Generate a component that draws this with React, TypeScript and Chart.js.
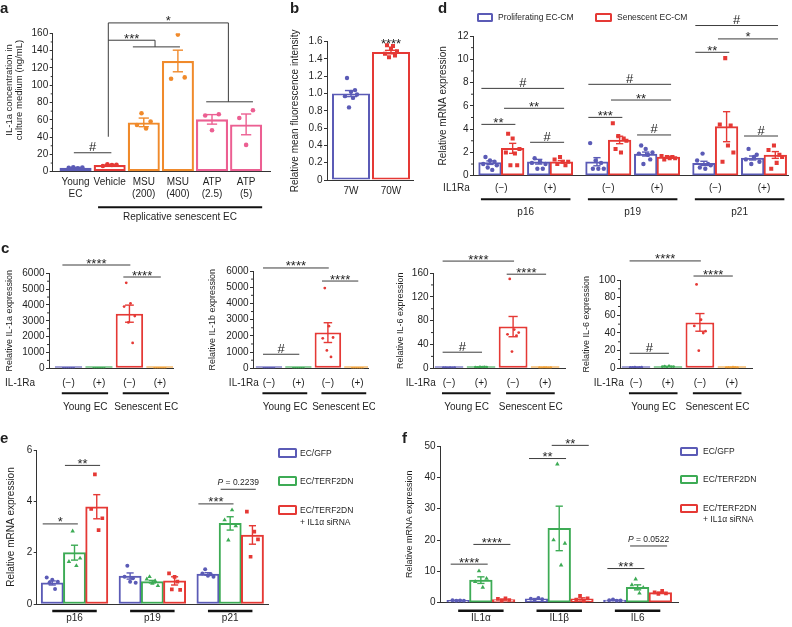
import React, { useEffect, useRef } from 'react';
import { Chart, registerables } from 'chart.js';

Chart.register(...registerables);

const FONT = '"Liberation Sans", Arial, Helvetica, sans-serif';
const INK = '#1f1f1f';
const AXIS = '#333333';
const SIG = '#3c3c3c';
const BLUE = '#5b5bb6';
const RED = '#e53935';
const ORANGE = '#f08a2b';
const PINK = '#ec5f92';
const GREEN = '#3dab55';
const AMBER = '#f3a43c';
const MINUS = '(\u2212)';
const PLUS = '(+)';

// ---------------- panel a ----------------
const aLabels = [['Young', 'EC'], 'Vehicle', ['MSU', '(200)'], ['MSU', '(400)'], ['ATP', '(2.5)'], ['ATP', '(5)']];
const aMeans = [4.5, 7.7, 57, 128, 60.5, 54.7];
const aSem = [0.4, 0.6, 5, 12.5, 5.5, 12];
const aPoints = [[4.4, 5.2, 3.9, 4.8], [6.6, 8.5, 7.8, 8.0], [54, 67.5, 50, 58], [107.5, 158.5, 109], [65, 48, 66.5], [62, 31, 71]];
const aColors = [BLUE, RED, ORANGE, ORANGE, PINK, PINK];
const aGroupLabel = 'Replicative senescent EC';

// ---------------- panel b ----------------
const bLabels = ['7W', '70W'];
const bMeans = [1.0, 1.48];
const bSem = [0.035, 0.02];
const bPoints = [[0.97, 1.18, 0.84, 1.02, 0.95, 1.04, 0.99], [1.46, 1.56, 1.42, 1.52, 1.55, 1.44, 1.49]];

// ---------------- panel c ----------------
const cTicks = [MINUS, PLUS, MINUS, PLUS];
const cGroups = ['Young EC', 'Senescent EC'];
const cColors = [BLUE, GREEN, RED, AMBER];
const c1Means = [1, 1, 3450, 1];
const c1Sem = [0, 0, 540, 0];
const c1Points = [[1.1, 0.9, 1.0, 1.2, 0.8, 1.0], [0.9, 1.1, 1.0, 0.8, 1.2, 1.0], [3900, 5400, 2900, 4100, 1600, 3300], [1.0, 0.8, 1.2, 0.9, 1.1, 1.0]];
const c2Means = [1, 1, 2200, 1];
const c2Sem = [0, 0, 610, 0];
const c2Points = [[1.0, 1.2, 0.8, 1.1, 0.9, 1.0], [1.1, 0.9, 1.0, 1.2, 0.8, 1.0], [1850, 4950, 1100, 2600, 700, 1900], [0.9, 1.0, 1.1, 0.8, 1.2, 1.0]];
const c3Means = [1, 2, 70, 1];
const c3Sem = [0, 0, 17, 0];
const c3Points = [[1.0, 1.3, 0.8, 1.1, 0.7, 1.1], [2.0, 1.6, 2.5, 1.8, 2.3, 2.0], [57, 150, 28, 65, 55, 60], [0.9, 0.6, 1.2, 1.0, 0.8, 1.1]];
const c4Means = [1, 2, 52, 1];
const c4Sem = [0, 0, 10, 0];
const c4Points = [[1.1, 0.9, 1.4, 0.8, 1.0, 1.2], [1.8, 2.3, 1.5, 2.6, 2.0, 1.9], [48, 95, 20, 55, 40, 42], [0.8, 1.0, 0.6, 1.2, 0.9, 0.7]];

// ---------------- panel d ----------------
const dGenes = ['p16', 'p19', 'p21'];
const dTreat = [MINUS, PLUS];
const dLegend = ['Proliferating EC-CM', 'Senescent EC-CM'];
// order: p16(-), p16(+), p19(-), p19(+), p21(-), p21(+)
const dProlifMeans = [1.12, 1.2, 1.2, 1.86, 1.06, 1.52];
const dProlifSem = [0.15, 0.2, 0.35, 0.17, 0.18, 0.17];
const dSenMeans = [2.35, 1.2, 3.07, 1.6, 4.21, 1.78];
const dSenSem = [0.43, 0.1, 0.32, 0.07, 1.29, 0.29];
const dProlifPoints = [[1.0, 1.6, 0.7, 1.3, 0.5, 1.2, 0.9], [1.1, 1.5, 0.6, 1.2, 0.6, 1.0], [2.8, 0.6, 1.3, 0.6, 1.1, 0.6], [1.9, 2.6, 1.0, 2.3, 1.8, 1.4, 2.0], [1.3, 0.7, 1.9, 0.6, 1.0, 0.9], [1.4, 2.3, 1.0, 1.6, 1.8, 1.2]];
const dSenPoints = [[2.0, 3.6, 0.9, 3.2, 1.9, 0.9, 2.3], [1.4, 1.0, 1.6, 1.2, 0.9, 1.2], [4.5, 2.3, 3.4, 2.0, 3.2, 3.0], [1.7, 1.4, 1.6, 1.5, 1.6, 1.5], [4.4, 1.2, 10.1, 2.6, 4.3, 2.0], [2.2, 0.6, 2.6, 1.1, 1.8, 1.6]];
// [barA, barB, y, label]
const dSig = [
  [0, 1, 4.41, '**'], [2, 3, 2.87, '#'], [1, 3, 5.79, '**'], [0, 3, 7.5, '#'],
  [4, 5, 5.01, '***'], [6, 7, 3.5, '#'], [5, 7, 6.5, '**'], [4, 7, 7.85, '#'],
  [8, 9, 10.6, '**'], [10, 11, 3.41, '#'], [9, 11, 11.75, '*'], [8, 11, 12.9, '#'],
];

// ---------------- panel e ----------------
const eGenes = ['p16', 'p19', 'p21'];
const efLegend = [['EC/GFP'], ['EC/TERF2DN'], ['EC/TERF2DN', '+ IL1\u03b1 siRNA']];
const eGfpMeans = [0.82, 1.09, 1.17];
const eGfpSem = [0.08, 0.12, 0.05];
const eTrfMeans = [2.0, 0.87, 3.14];
const eTrfSem = [0.29, 0.05, 0.26];
const eSiMeans = [3.79, 0.9, 2.69];
const eSiSem = [0.47, 0.16, 0.36];
const eGfpPoints = [[1.03, 0.83, 0.94, 0.58, 0.87], [1.06, 1.49, 0.87, 1.0, 0.83], [1.19, 1.35, 1.1, 1.16, 1.06]];
const eTrfPoints = [[1.65, 2.84, 1.49, 1.78], [0.97, 1.06, 0.8, 0.9, 0.71], [3.27, 2.49, 3.66, 3.04]];
const eSiPoints = [[3.7, 5.05, 2.88, 3.34], [1.19, 0.57, 1.06, 0.87, 0.55], [3.6, 1.84, 2.82, 2.52]];
const eSig = [[0, 1, 3.12, '*'], [1, 2, 5.4, '**'], [6, 7, 3.9, '***'], [7, 8, 4.47, 'P = 0.2239']];

// ---------------- panel f ----------------
const fGenes = ['IL1\u03b1', 'IL1\u03b2', 'IL6'];
const fGfpMeans = [0.75, 1.2, 0.8];
const fGfpSem = [0.07, 0.13, 0.09];
const fTrfMeans = [7.2, 23.7, 4.9];
const fTrfSem = [1.05, 7.1, 0.8];
const fSiMeans = [1.0, 1.2, 3.2];
const fSiSem = [0.18, 0.35, 0.2];
const fGfpPoints = [[0.8, 0.6, 0.7, 0.6], [1.3, 0.9, 1.5, 1.1], [0.8, 1.0, 0.6, 0.7]];
const fTrfPoints = [[6.7, 10.1, 4.9, 7.7], [20, 44.2, 12, 18.9], [5.7, 7.5, 3.0, 4.8]];
const fSiPoints = [[1.2, 0.6, 1.4, 0.85], [1.0, 2.2, 0.6, 1.4], [3.3, 2.8, 3.8, 3.0]];
const fSig = [[0, 1, 12.3, '****'], [1, 2, 18.6, '****'], [3, 4, 46, '**'], [4, 5, 50.2, '**'], [6, 7, 10.9, '***'], [7, 8, 18.1, 'P = 0.0522']];

// ---------------- types & helpers ----------------
type Shape = 'circle' | 'rect' | 'triangle';
type Bar = { pos: number; mean: number; sem: number; color: string; points: number[]; shape: Shape };
type Bracket = { x1: number; x2: number; y: number; text: string; drops?: number[][]; spans?: number[][]; noLine?: boolean };
type Spec = {
  key: string;
  box: number[];
  area: number[];
  xRange: number[];
  yMin: number; yMax: number; yStep: number; yMinor?: number; yFmt?: (v: number) => string;
  yTitle: string[]; titleX: number; titleY?: number; titleSize: number;
  bars: Bar[]; barPct: number; barBorder?: number;
  ticks: { pos: number; label: string | string[] }[]; tickPad: number; tickLH?: number;
  brackets: Bracket[];
  spread: number; pointR: number; minBar?: number;
  extra?: (ctx: CanvasRenderingContext2D, xs: (v: number) => number, ys: (v: number) => number, area: any) => void;
};

function seg(ctx: CanvasRenderingContext2D, x1: number, y1: number, x2: number, y2: number, w = 1, color = SIG) {
  ctx.save();
  ctx.strokeStyle = color;
  ctx.lineWidth = w;
  ctx.beginPath();
  ctx.moveTo(x1, y1);
  ctx.lineTo(x2, y2);
  ctx.stroke();
  ctx.restore();
}

function label(ctx: CanvasRenderingContext2D, s: string, x: number, y: number, size = 10, align: CanvasTextAlign = 'center') {
  ctx.save();
  ctx.fillStyle = INK;
  ctx.font = `${size}px ${FONT}`;
  ctx.textAlign = align;
  ctx.textBaseline = 'middle';
  ctx.fillText(s, x, y);
  ctx.restore();
}

function mark(ctx: CanvasRenderingContext2D, s: string, x: number, y: number) {
  ctx.save();
  ctx.fillStyle = INK;
  ctx.textBaseline = 'alphabetic';
  if (s.startsWith('P')) {
    const rest = s.slice(1);
    ctx.font = `italic 8.5px ${FONT}`;
    const wP = ctx.measureText('P').width;
    ctx.font = `8.5px ${FONT}`;
    const wR = ctx.measureText(rest).width;
    const x0 = x - (wP + wR) / 2;
    ctx.textAlign = 'left';
    ctx.font = `italic 8.5px ${FONT}`;
    ctx.fillText('P', x0, y - 4);
    ctx.font = `8.5px ${FONT}`;
    ctx.fillText(rest, x0 + wP, y - 4);
  } else {
    ctx.font = `13px ${FONT}`;
    ctx.textAlign = 'center';
    ctx.fillText(s, x, s.includes('*') ? y + 2.5 : y - 1.5);
  }
  ctx.restore();
}

const sigFromBars = (bars: Bar[], list: any[][], extL: number, extR: number): Bracket[] =>
  list.map(([a, b, y, text]) => ({ x1: bars[a].pos - extL, x2: bars[b].pos + extR, y, text }));

// ---------------- specs ----------------
const aBars: Bar[] = aMeans.map((m, i) => ({ pos: i, mean: m, sem: aSem[i], color: aColors[i], points: aPoints[i], shape: 'circle' }));
const aSpec: Spec = {
  key: 'a', box: [0, 0, 275, 226], area: [52.7, 33.3, 270, 171.7], xRange: [-0.67, 5.7],
  yMin: 0, yMax: 160, yStep: 20, yMinor: 10,
  yTitle: ['IL-1a concentration in', 'culture medium (ng/mL)'], titleX: 9, titleY: 90, titleSize: 9.5,
  bars: aBars, barPct: 0.94, barBorder: 2.3,
  ticks: aLabels.map((l, i) => ({ pos: i, label: l })), tickPad: 5.3, tickLH: 1.13,
  brackets: [
    { x1: -0.05, x2: 1.05, y: 21.9, text: '#' },
    { x1: 0.96, x2: 4.48, y: 172, text: '*', drops: [[0.96, 40.4], [4.48, 80.8]], spans: [[3.83, 5.2, 80.8]] },
    { x1: 0.96, x2: 2.33, y: 152, text: '***', drops: [[2.33, 144.3]], spans: [[1.68, 3.06, 144.3]] },
  ],
  spread: 0.4, pointR: 2.3,
  extra: (ctx, xs, ys, area) => {
    seg(ctx, xs(0.66), area.bottom + 35.5, xs(5.47), area.bottom + 35.5, 2, '#111');
    label(ctx, aGroupLabel, xs(3.06), area.bottom + 45.5, 10);
  },
};

const bBars: Bar[] = bMeans.map((m, i) => ({ pos: i, mean: m, sem: bSem[i], color: i === 0 ? BLUE : RED, points: bPoints[i], shape: i === 0 ? 'circle' : 'rect' }));
const bSpec: Spec = {
  key: 'b', box: [285, 0, 133, 200], area: [327, 41.7, 413, 180], xRange: [-0.6, 1.55],
  yMin: 0, yMax: 1.6, yStep: 0.2, yFmt: (v) => (Math.abs(v) < 1e-9 ? '0' : v.toFixed(1)),
  yTitle: ['Relative mean fluorescence intensity'], titleX: 295.5, titleSize: 10,
  bars: bBars, barPct: 0.95,
  ticks: bLabels.map((l, i) => ({ pos: i, label: l })), tickPad: 5,
  brackets: [{ x1: 1, x2: 1, y: 1.56, text: '****', noLine: true }],
  spread: 0.3, pointR: 2.2,
};

function cSpec(key: string, title: string, means: number[], sem: number[], points: number[][], box: number[], area: number[],
  xRange: number[], yMax: number, yStep: number, yMinor: number, titleX: number, ilra: number, sig: any[][]): Spec {
  const bars: Bar[] = means.map((m, i) => ({ pos: i, mean: m, sem: sem[i], color: cColors[i], points: points[i], shape: 'circle' }));
  return {
    key, box, area, xRange, yMin: 0, yMax, yStep, yMinor,
    yTitle: [title], titleX, titleSize: 9,
    bars, barPct: 0.9, minBar: 2,
    ticks: cTicks.map((l, i) => ({ pos: i, label: l })), tickPad: 8.7,
    brackets: sigFromBars(bars, sig, 0.2, 0.03),
    spread: 0.35, pointR: 1.4,
    extra: (ctx, xs, ys, ar) => {
      label(ctx, 'IL-1Ra', xs(ilra), ar.bottom + 14.7, 10);
      cGroups.forEach((g, i) => {
        seg(ctx, xs(2 * i - 0.22), ar.bottom + 25, xs(2 * i + 1.3), ar.bottom + 25, 2, '#111');
        label(ctx, g, xs(2 * i + 0.55), ar.bottom + 38.7, 10);
      });
    },
  };
}

const c1Spec = cSpec('c1', 'Relative IL-1a expression', c1Means, c1Sem, c1Points, [0, 248, 180, 168], [49, 273.3, 173, 368.3],
  [-0.64, 3.43], 6000, 1000, 500, 10, -1.59, [[0, 2, 6524, '****'], [2, 3, 5766, '****']]);
const c2Spec = cSpec('c2', 'Relative IL-1b expression', c2Means, c2Sem, c2Points, [200, 248, 175, 168], [253, 271, 368, 368.3],
  [-0.54, 3.36], 6000, 1000, 500, 212.5, -0.85, [[0, 2, 6186, '****'], [2, 3, 5381, '****'], [0, 1, 866, '#']]);
const c3Spec = cSpec('c3', 'Relative IL-6 expression', c3Means, c3Sem, c3Points, [390, 248, 182, 168], [433, 273, 565, 368.3],
  [-0.5, 3.62], 160, 40, 20, 401, -0.88, [[0, 2, 180, '****'], [2, 3, 158, '****'], [0, 1, 27, '#']]);
const c4Spec = cSpec('c4', 'Relative IL-6 expression', c4Means, c4Sem, c4Points, [577, 248, 185, 168], [620, 280, 752, 368.3],
  [-0.5, 3.63], 100, 20, 10, 587, -0.85, [[0, 2, 121.6, '****'], [2, 3, 104.5, '****'], [0, 1, 17, '#']]);

// d: pairs of bars, pair centre in bar-width units
const dPair = (g: number, s: number) => 1.25 + g * 4.72 + s * 2.15;
const dBars: Bar[] = [];
dGenes.forEach((_, g) => dTreat.forEach((__, s) => {
  const i = g * 2 + s;
  dBars.push({ pos: dPair(g, s) - 0.5, mean: dProlifMeans[i], sem: dProlifSem[i], color: BLUE, points: dProlifPoints[i], shape: 'circle' });
  dBars.push({ pos: dPair(g, s) + 0.5, mean: dSenMeans[i], sem: dSenSem[i], color: RED, points: dSenPoints[i], shape: 'rect' });
}));
const dTicks: { pos: number; label: string }[] = [];
dGenes.forEach((_, g) => dTreat.forEach((t, s) => dTicks.push({ pos: dPair(g, s), label: t })));
const dSpec: Spec = {
  key: 'd', box: [432, 8, 360, 214], area: [473, 36, 788, 175.7], xRange: [0, 13.9],
  yMin: 0, yMax: 12, yStep: 2, yMinor: 1,
  yTitle: ['Relative mRNA expression'], titleX: 443, titleSize: 10,
  bars: dBars, barPct: 1,
  ticks: dTicks, tickPad: 6.6,
  brackets: sigFromBars(dBars, dSig, 0.38, 0.12),
  spread: 0.6, pointR: 2.2,
  extra: (ctx, xs, ys, area) => {
    label(ctx, 'IL1Ra', xs(-0.73), area.bottom + 12.6, 10);
    dGenes.forEach((g, i) => {
      const a = dBars[i * 4].pos - 0.4;
      const b = dBars[i * 4 + 3].pos + 0.4;
      seg(ctx, xs(a), area.bottom + 23.5, xs(b), area.bottom + 23.5, 2, '#111');
      label(ctx, g, xs((a + b) / 2), area.bottom + 36.5, 10);
    });
  },
};

function triple(genes: string[], start: number, step: number, means: number[][], sems: number[][], pts: number[][][]): Bar[] {
  const colors = [BLUE, GREEN, RED];
  const shapes: Shape[] = ['circle', 'triangle', 'rect'];
  const out: Bar[] = [];
  genes.forEach((_, g) => [0, 1, 2].forEach((k) => {
    out.push({ pos: start + g * step + k, mean: means[k][g], sem: sems[k][g], color: colors[k], points: pts[k][g], shape: shapes[k] });
  }));
  return out;
}

const eBars = triple(eGenes, 0.7, 3.5, [eGfpMeans, eTrfMeans, eSiMeans], [eGfpSem, eTrfSem, eSiSem], [eGfpPoints, eTrfPoints, eSiPoints]);
const eSpec: Spec = {
  key: 'e', box: [0, 440, 272, 187], area: [36.7, 450, 268, 604], xRange: [0, 10.4],
  yMin: 0, yMax: 6, yStep: 2,
  yTitle: ['Relative mRNA expression'], titleX: 11, titleSize: 10,
  bars: eBars, barPct: 1,
  ticks: eGenes.map((g, i) => ({ pos: eBars[i * 3 + 1].pos, label: g })), tickPad: 8,
  brackets: sigFromBars(eBars, eSig, 0.43, 0.15),
  spread: 0.5, pointR: 2,
  extra: (ctx, xs, ys, area) => {
    eGenes.forEach((_, i) => seg(ctx, xs(eBars[i * 3].pos), area.bottom + 7, xs(eBars[i * 3 + 2].pos), area.bottom + 7, 2.5, '#111'));
  },
};

const fBars = triple(fGenes, 0.8, 3.45, [fGfpMeans, fTrfMeans, fSiMeans], [fGfpSem, fTrfSem, fSiSem], [fGfpPoints, fTrfPoints, fSiPoints]);
const fSpec: Spec = {
  key: 'f', box: [398, 428, 284, 199], area: [440, 446, 678, 602.7], xRange: [0, 10.48],
  yMin: 0, yMax: 50, yStep: 10,
  yTitle: ['Relative mRNA expression'], titleX: 410, titleSize: 9,
  bars: fBars, barPct: 1,
  ticks: fGenes.map((g, i) => ({ pos: fBars[i * 3 + 1].pos, label: g })), tickPad: 10,
  brackets: sigFromBars(fBars, fSig, 0.33, 0.3),
  spread: 0.5, pointR: 2,
  extra: (ctx, xs, ys, area) => {
    fGenes.forEach((_, i) => seg(ctx, xs(fBars[i * 3].pos), area.bottom + 8, xs(fBars[i * 3 + 2].pos), area.bottom + 8, 2.5, '#111'));
  },
};

const SPECS: Spec[] = [aSpec, bSpec, dSpec, c1Spec, c2Spec, c3Spec, c4Spec, eSpec, fSpec];

// ---------------- chart component ----------------
function Panel({ spec }: { spec: Spec }) {
  const ref = useRef<HTMLCanvasElement | null>(null);
  useEffect(() => {
    const canvas = ref.current;
    if (!canvas) return;
    const [bl, bt, bw, bh] = spec.box;
    const [al, at, ar, ab] = spec.area;
    const pts: any[] = [];
    spec.bars.forEach((b) => {
      const n = b.points.length;
      b.points.forEach((v, j) => {
        const off = n > 1 ? (j / (n - 1) - 0.5) * spec.spread : 0;
        pts.push({ x: b.pos + off, y: v, color: b.color, shape: b.shape });
      });
    });
    const deco = {
      id: 'deco',
      afterDatasetsDraw(chart: any) {
        const ctx = chart.ctx;
        const xs = (v: number) => chart.scales.x.getPixelForValue(v);
        const ys = (v: number) => chart.scales.y.getPixelForValue(v);
        const unit = Math.abs(xs(1) - xs(0));
        const cap = unit * spec.barPct * 0.16;
        spec.bars.forEach((b) => {
          if (!(b.sem > 0)) return;
          const x = xs(b.pos);
          const yt = ys(b.mean + b.sem);
          const yb = ys(Math.max(0, b.mean - b.sem));
          seg(ctx, x, yt, x, yb, 1.4, b.color);
          seg(ctx, x - cap, yt, x + cap, yt, 1.4, b.color);
          seg(ctx, x - cap, yb, x + cap, yb, 1.4, b.color);
        });
      },
      afterDraw(chart: any) {
        const ctx = chart.ctx;
        const xs = (v: number) => chart.scales.x.getPixelForValue(v);
        const ys = (v: number) => chart.scales.y.getPixelForValue(v);
        const area = chart.chartArea;
        if (spec.yMinor) {
          for (let v = spec.yMin; v <= spec.yMax + 1e-9; v += spec.yMinor) {
            const r = v / spec.yStep;
            if (Math.abs(r - Math.round(r)) > 1e-6) seg(ctx, area.left - 2, ys(v), area.left, ys(v), 1, AXIS);
          }
        }
        ctx.save();
        ctx.fillStyle = INK;
        ctx.font = `${spec.titleSize}px ${FONT}`;
        ctx.textAlign = 'center';
        ctx.textBaseline = 'middle';
        const cy = spec.titleY !== undefined ? spec.titleY - bt : (area.top + area.bottom) / 2;
        spec.yTitle.forEach((line, i) => {
          ctx.save();
          ctx.translate(spec.titleX - bl + i * spec.titleSize * 1.1, cy);
          ctx.rotate(-Math.PI / 2);
          ctx.fillText(line, 0, 0);
          ctx.restore();
        });
        ctx.restore();
        spec.brackets.forEach((b) => {
          const y = ys(b.y);
          if (!b.noLine) seg(ctx, xs(b.x1), y, xs(b.x2), y, 1, SIG);
          (b.drops || []).forEach(([dx, dy]) => seg(ctx, xs(dx), y, xs(dx), ys(dy), 1, SIG));
          (b.spans || []).forEach(([xa, xb, sy]) => seg(ctx, xs(xa), ys(sy), xs(xb), ys(sy), 1, SIG));
          mark(ctx, b.text, xs((b.x1 + b.x2) / 2), y);
        });
        if (spec.extra) spec.extra(ctx, xs, ys, area);
      },
    };
    const chart = new Chart(canvas, {
      type: 'bar',
      data: {
        datasets: [
          {
            type: 'bar',
            data: spec.bars.map((b) => ({ x: b.pos, y: b.mean })),
            backgroundColor: '#ffffff',
            borderColor: spec.bars.map((b) => b.color),
            borderWidth: spec.barBorder || 2,
            borderSkipped: false,
            barPercentage: spec.barPct,
            categoryPercentage: 1,
            grouped: false,
            minBarLength: spec.minBar || 0,
            order: 2,
          } as any,
          {
            type: 'scatter',
            data: pts.map((p) => ({ x: p.x, y: p.y })),
            pointStyle: pts.map((p) => p.shape),
            pointRadius: pts.map((p) => (p.shape === 'circle' ? spec.pointR : spec.pointR * 1.3)),
            pointBackgroundColor: pts.map((p) => p.color),
            pointBorderColor: pts.map((p) => p.color),
            pointBorderWidth: 0,
            showLine: false,
            order: 1,
          } as any,
        ],
      },
      options: {
        responsive: false,
        animation: false,
        events: [],
        layout: { padding: { top: at - bt, right: bl + bw - ar, left: 0, bottom: 0 } },
        plugins: { legend: { display: false }, tooltip: { enabled: false }, title: { display: false } },
        scales: {
          x: {
            type: 'linear',
            bounds: 'data',
            offset: false,
            min: spec.xRange[0],
            max: spec.xRange[1],
            grid: { display: false, drawTicks: false, tickLength: 0, offset: false },
            border: { display: true, color: AXIS, width: 1 },
            afterBuildTicks: (s: any) => { s.ticks = spec.ticks.map((t) => ({ value: t.pos })); },
            ticks: {
              autoSkip: false, maxRotation: 0, minRotation: 0, padding: spec.tickPad, color: INK,
              font: { family: FONT, size: 10, lineHeight: spec.tickLH || 1.2 },
              callback: (_v: any, i: number) => (spec.ticks[i] ? spec.ticks[i].label : ''),
            },
            afterFit: (s: any) => { s.height = bt + bh - ab; },
          },
          y: {
            type: 'linear',
            min: spec.yMin,
            max: spec.yMax,
            grid: { display: true, drawOnChartArea: false, drawTicks: true, tickLength: 3, tickColor: AXIS, tickWidth: 1 },
            border: { display: true, color: AXIS, width: 1 },
            ticks: {
              stepSize: spec.yStep, padding: 1.5, color: INK,
              font: { family: FONT, size: 10 },
              callback: (v: any) => (spec.yFmt ? spec.yFmt(Number(v)) : String(Math.round(Number(v) * 1000) / 1000)),
            },
            afterFit: (s: any) => { s.width = al - bl; },
          },
        },
      } as any,
      plugins: [deco],
    });
    return () => chart.destroy();
  }, [spec]);
  return (
    <canvas
      ref={ref}
      width={spec.box[2]}
      height={spec.box[3]}
      style={{ position: 'absolute', left: spec.box[0], top: spec.box[1], width: spec.box[2], height: spec.box[3] }}
    />
  );
}

const letters = [
  { t: 'a', x: 0, y: -0.5 },
  { t: 'b', x: 290, y: 0 },
  { t: 'd', x: 438, y: 0 },
  { t: 'c', x: 1, y: 240 },
  { t: 'e', x: 0, y: 430 },
  { t: 'f', x: 402, y: 430 },
];

function LegendBox({ left, top, w, h, color }: { left: number; top: number; w: number; h: number; color: string }) {
  return (
    <div style={{ position: 'absolute', left, top, width: w, height: h, border: `2.5px solid ${color}`, boxSizing: 'border-box', borderRadius: 1.5, background: '#fff' }} />
  );
}

function LegendText({ left, cy, text }: { left: number; cy: number; text: string }) {
  return (
    <div style={{ position: 'absolute', left, top: cy - 5, fontSize: 8.5, lineHeight: '10px', whiteSpace: 'nowrap', color: INK }}>{text}</div>
  );
}

export default function App() {
  const efColors = [BLUE, GREEN, RED];
  const eTops = [453, 481, 510];
  const fTops = [451, 479, 508];
  return (
    <div style={{ position: 'absolute', left: 0, top: 0, width: 792, height: 627, background: '#fff', overflow: 'hidden', fontFamily: FONT, color: INK }}>
      {SPECS.map((s) => <Panel key={s.key} spec={s} />)}
      {letters.map((l) => (
        <div key={l.t} style={{ position: 'absolute', left: l.x, top: l.y, fontSize: 15, fontWeight: 'bold', lineHeight: '15px' }}>{l.t}</div>
      ))}
      {/* legend d */}
      <LegendBox left={477} top={12.7} w={16} h={9} color={BLUE} />
      <LegendText left={498} cy={17.2} text={dLegend[0]} />
      <LegendBox left={595} top={12.7} w={17} h={9} color={RED} />
      <LegendText left={617} cy={17.2} text={dLegend[1]} />
      {/* legend e */}
      {efLegend.map((lines, i) => (
        <React.Fragment key={'e' + i}>
          <LegendBox left={278} top={eTops[i] - 5} w={19} h={10} color={efColors[i]} />
          {lines.map((t, j) => <LegendText key={j} left={300} cy={eTops[i] + j * 11.5} text={t} />)}
        </React.Fragment>
      ))}
      {/* legend f */}
      {efLegend.map((lines, i) => (
        <React.Fragment key={'f' + i}>
          <LegendBox left={680} top={fTops[i] - 4.5} w={18} h={9} color={efColors[i]} />
          {lines.map((t, j) => <LegendText key={j} left={703} cy={fTops[i] + j * 10.5} text={t} />)}
        </React.Fragment>
      ))}
    </div>
  );
}
